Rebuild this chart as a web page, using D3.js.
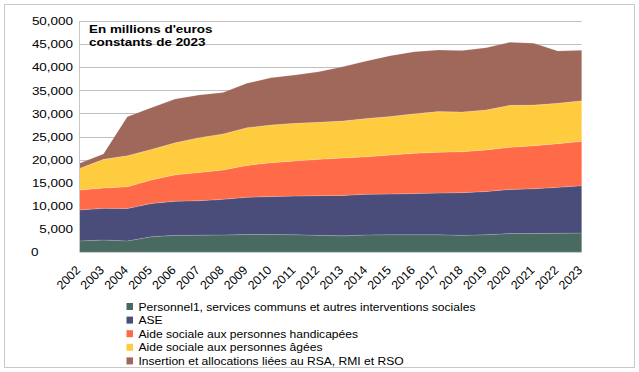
<!DOCTYPE html>
<html>
<head>
<meta charset="utf-8">
<script src="https://cdn.jsdelivr.net/npm/d3@7"></script>
<style>
  body { margin: 0; background: #fff; }
  text { font-family: "Liberation Sans", Arial, sans-serif; fill: #000; }
</style>
</head>
<body>
<svg width="639" height="372"></svg>
<script>
// data, millions d'euros constants de 2023
const years = d3.range(2002, 2024);
const personnel = [2400, 2600, 2400, 3300, 3600, 3650, 3700, 3800, 3800, 3750, 3600, 3500, 3700, 3750, 3750, 3750, 3600, 3750, 4000, 4000, 4050, 4100];
const ase = [6700, 6850, 7000, 7200, 7400, 7450, 7700, 8050, 8200, 8350, 8600, 8750, 8800, 8800, 8900, 9000, 9250, 9350, 9550, 9700, 9950, 10250];
const handicap = [4300, 4400, 4700, 5100, 5700, 6100, 6350, 6900, 7300, 7600, 7850, 8100, 8100, 8450, 8700, 8850, 8850, 9000, 9100, 9300, 9450, 9600];
const agees = [4700, 6200, 6750, 6600, 6950, 7550, 7800, 8150, 8200, 8150, 8050, 8000, 8300, 8350, 8550, 8800, 8600, 8650, 9100, 8800, 8750, 8800];
const insertion = [1100, 1150, 8450, 9050, 9450, 9250, 8950, 9600, 10200, 10450, 10900, 11750, 12450, 13150, 13450, 13300, 13300, 13450, 13650, 13400, 11300, 10900];

const seriesNames = [
  "Personnel1, services communs et autres interventions sociales",
  "ASE",
  "Aide sociale aux personnes handicapées",
  "Aide sociale aux personnes âgées",
  "Insertion et allocations liées au RSA, RMI et RSO"
];
const colors = ["#486a61", "#4a4d79", "#ff6b48", "#ffcc40", "#a0685a"];
const yTicks = d3.range(0, 50001, 5000);

const keys = ["personnel", "ase", "handicap", "agees", "insertion"];
const table = years.map((y, i) => ({
  year: y,
  personnel: personnel[i], ase: ase[i], handicap: handicap[i],
  agees: agees[i], insertion: insertion[i]
}));

const svg = d3.select("svg");
const stretch = 1.15; // the picture's text is a bit wide

// outer frame
svg.append("rect")
  .attr("x", 4.5).attr("y", 4.5)
  .attr("width", 630).attr("height", 363)
  .attr("fill", "none").attr("stroke", "#c8c8c8");

const x = d3.scaleLinear().domain([2002, 2023]).range([79.5, 581.7]);
const y = d3.scaleLinear().domain([0, 50000]).range([252, 21]);

// gridlines
svg.append("g").selectAll("line")
  .data(yTicks.filter(d => d > 0))
  .enter().append("line")
  .attr("x1", x.range()[0]).attr("x2", x.range()[1])
  .attr("y1", d => Math.round(y(d)) + 0.5).attr("y2", d => Math.round(y(d)) + 0.5)
  .attr("stroke", "#bfbfbf");

const stack = d3.stack().keys(keys);
const layers = stack(table);

const area = d3.area()
  .x(d => x(d.data.year))
  .y0(d => y(d[0]))
  .y1(d => y(d[1]));

svg.append("g").selectAll("path")
  .data(layers)
  .enter().append("path")
  .attr("d", area)
  .attr("fill", (d, i) => colors[i])
  .attr("stroke", "#ffffff")
  .attr("stroke-opacity", 0.25)
  .attr("stroke-width", 0.6);

// axis lines
svg.append("line")
  .attr("x1", 79.5).attr("x2", 79.5).attr("y1", 21).attr("y2", 252)
  .attr("stroke", "#c8c8c8");
svg.append("line")
  .attr("x1", 79.5).attr("x2", 581.7).attr("y1", 252.5).attr("y2", 252.5)
  .attr("stroke", "#c8c8c8");

// y tick labels
const fmt = d3.format(",");
svg.append("g").selectAll("text")
  .data(yTicks)
  .enter().append("text")
  .attr("transform", d => d === 0
    ? `translate(31,${y(d)}) scale(${stretch},1)`
    : `translate(73,${y(d)}) scale(${stretch},1)`)
  .attr("dy", "0.36em")
  .attr("text-anchor", d => d === 0 ? "start" : "end")
  .style("font-size", "11.7px")
  .text(fmt);

// year labels
svg.append("g").selectAll("text")
  .data(years)
  .enter().append("text")
  .attr("transform", d => `translate(${x(d) + 1.5},${271}) rotate(-45)`)
  .attr("text-anchor", "end")
  .style("font-size", "12.3px")
  .text(d => d);

// title in the plot
const title = svg.append("text")
  .attr("transform", `translate(89,33.3) scale(${stretch},1)`)
  .style("font-size", "11.7px")
  .style("font-weight", "bold");
title.append("tspan").attr("x", 0).attr("y", 0).text("En millions d'euros");
title.append("tspan").attr("x", 0).attr("y", 12.4).text("constants de 2023");

// legend
const legend = svg.append("g").selectAll("g")
  .data(seriesNames)
  .enter().append("g")
  .attr("transform", (d, i) => `translate(126.5,${306.5 + i * 13.6})`);

legend.append("rect")
  .attr("x", 0).attr("y", -3.5)
  .attr("width", 6.5).attr("height", 7)
  .attr("fill", (d, i) => colors[i]);

legend.append("text")
  .attr("transform", "translate(12,0) scale(1.07,1)")
  .attr("dy", "0.36em")
  .style("font-size", "11.3px")
  .text(d => d);
</script>
</body>
</html>
